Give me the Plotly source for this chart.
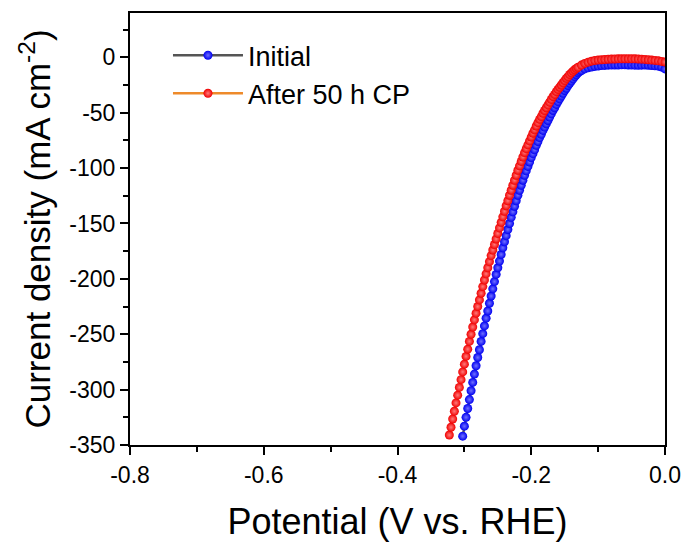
import plotly.graph_objects as go

# ── Data
V_INITIAL = [
    -0.3025, -0.3000, -0.2975, -0.2950, -0.2925, -0.2900, -0.2875, -0.2850, -0.2825, -0.2800,
    -0.2775, -0.2750, -0.2725, -0.2700, -0.2675, -0.2650, -0.2625, -0.2600, -0.2575, -0.2550,
    -0.2525, -0.2500, -0.2475, -0.2450, -0.2425, -0.2400, -0.2375, -0.2350, -0.2325, -0.2300,
    -0.2275, -0.2250, -0.2225, -0.2200, -0.2175, -0.2150, -0.2125, -0.2100, -0.2075, -0.2050,
    -0.2025, -0.2000, -0.1975, -0.1950, -0.1925, -0.1900, -0.1875, -0.1850, -0.1825, -0.1800,
    -0.1775, -0.1750, -0.1725, -0.1700, -0.1675, -0.1650, -0.1625, -0.1600, -0.1575, -0.1550,
    -0.1525, -0.1500, -0.1475, -0.1450, -0.1425, -0.1400, -0.1375, -0.1350, -0.1325, -0.1300,
    -0.1275, -0.125, -0.120, -0.115, -0.110, -0.105, -0.100, -0.095, -0.090, -0.085,
    -0.080, -0.075, -0.070, -0.065, -0.060, -0.055, -0.050, -0.045, -0.040, -0.035,
    -0.030, -0.025, -0.020, -0.015, -0.010, -0.005, 0.000,
]
J_INITIAL = [
    -342, -333, -325, -317, -309, -301, -293.5, -286, -278.5, -271,
    -264, -256.5, -249.5, -242.5, -235.5, -229, -222, -215.5, -209, -202.5,
    -196, -190, -184, -178, -172, -166.5, -161, -155.5, -150, -144.5,
    -139.5, -134.5, -129.5, -124.5, -120, -115.5, -111, -106.5, -102.5, -98.5,
    -94.5, -90.5, -87, -83.5, -79.5, -76, -72.5, -69.5, -66, -63,
    -60, -57, -54, -51, -48, -45.5, -42.5, -40, -37.5, -35,
    -32.5, -30, -28, -25.5, -23.5, -21.5, -19.5, -17.5, -15.8, -14,
    -12.9, -11.9, -10.5, -9.5, -8.8, -8.2, -7.8, -7.5, -7.3, -7.1,
    -7.0, -6.9, -6.9, -6.8, -6.8, -6.9, -7.0, -7.1, -7.2, -7.1,
    -7.0, -7.2, -7.4, -7.7, -8.0, -8.8, -10.5,
]

V_AFTER = [
    -0.3225, -0.3200, -0.3175, -0.3150, -0.3125, -0.3100, -0.3075, -0.3050, -0.3025, -0.3000,
    -0.2975, -0.2950, -0.2925, -0.2900, -0.2875, -0.2850, -0.2825, -0.2800, -0.2775, -0.2750,
    -0.2725, -0.2700, -0.2675, -0.2650, -0.2625, -0.2600, -0.2575, -0.2550, -0.2525, -0.2500,
    -0.2475, -0.2450, -0.2425, -0.2400, -0.2375, -0.2350, -0.2325, -0.2300, -0.2275, -0.2250,
    -0.2225, -0.2200, -0.2175, -0.2150, -0.2125, -0.2100, -0.2075, -0.2050, -0.2025, -0.2000,
    -0.1975, -0.1950, -0.1925, -0.1900, -0.1875, -0.1850, -0.1825, -0.1800, -0.1775, -0.1750,
    -0.1725, -0.1700, -0.1675, -0.1650, -0.1625, -0.1600, -0.1575, -0.1550, -0.1525, -0.1500,
    -0.1475, -0.1450, -0.1425, -0.1400, -0.1375, -0.1350, -0.1325, -0.1300,
    -0.125, -0.120, -0.115, -0.110, -0.105, -0.100, -0.095, -0.090, -0.085, -0.080,
    -0.075, -0.070, -0.065, -0.060, -0.055, -0.050, -0.045, -0.040, -0.035, -0.030,
    -0.025, -0.020, -0.015, -0.010, -0.005, 0.000,
]
J_AFTER = [
    -341, -334, -326.5, -319.5, -312, -305, -298, -291, -284, -277,
    -270, -263.5, -256.5, -250, -243.5, -237, -231, -225, -219, -213,
    -207, -201, -195.5, -190, -184.5, -179, -174, -169, -164, -159,
    -154, -149, -144, -139, -134, -129.5, -124.5, -120, -115.5, -111,
    -106.5, -102, -98, -94, -90, -86, -82.5, -79, -75.5, -72,
    -68.5, -65.5, -62, -59, -56, -53.5, -50.5, -48, -45.5, -43,
    -40.5, -38, -35.5, -33.5, -31, -29, -27, -25, -23, -21,
    -19, -17.5, -15.5, -14, -12.5, -11.2, -10, -9,
    -7, -5.5, -4.4, -3.5, -2.9, -2.5, -2.2, -2.0, -1.8, -1.6,
    -1.5, -1.4, -1.35, -1.3, -1.3, -1.3, -1.4, -1.5, -1.7, -1.9,
    -2.2, -2.5, -2.8, -3.2, -3.7, -4.2,
]

X_TICKS = [-0.8, -0.6, -0.4, -0.2, 0.0]
X_TICK_TEXT = ['-0.8', '-0.6', '-0.4', '-0.2', '0.0']
Y_TICKS = [0, -50, -100, -150, -200, -250, -300, -350]
Y_TICK_TEXT = ['0', '-50', '-100', '-150', '-200', '-250', '-300', '-350']

FONT = 'Arial, "Liberation Sans", sans-serif'
AXIS_COLOR = '#000000'

fig = go.Figure()

fig.add_trace(go.Scatter(
    x=V_INITIAL, y=J_INITIAL,
    mode='lines+markers', name='Initial',
    line=dict(color='#555555', width=2.5),
    marker=dict(size=9, color='#0000f0', line=dict(width=0),
                gradient=dict(type='radial', color='#7070ff')),
))
fig.add_trace(go.Scatter(
    x=V_AFTER, y=J_AFTER,
    mode='lines+markers', name='After 50 h CP',
    line=dict(color='#ee8a2a', width=2.5),
    marker=dict(size=9, color='#f00000', line=dict(width=0),
                gradient=dict(type='radial', color='#ff7a7a')),
))

axis_common = dict(
    showline=True, linecolor=AXIS_COLOR, linewidth=2, mirror=True,
    ticks='outside', ticklen=8, tickwidth=2, tickcolor=AXIS_COLOR,
    showgrid=False, zeroline=False, automargin=False,
    tickfont=dict(family=FONT, size=23, color='#000000'),
)

fig.update_xaxes(
    range=[-0.8, 0.0],
    tickvals=X_TICKS, ticktext=X_TICK_TEXT,
    minor=dict(tickmode='linear', tick0=-0.8, dtick=0.1, ticks='outside',
               ticklen=5, tickwidth=2, tickcolor=AXIS_COLOR),
    title=dict(text='Potential (V vs. RHE)', font=dict(family=FONT, size=36, color='#000000'),
               standoff=22),
    **axis_common,
)
fig.update_yaxes(
    range=[-350, 40],
    tickvals=Y_TICKS, ticktext=Y_TICK_TEXT,
    minor=dict(tickmode='linear', tick0=0, dtick=25, ticks='outside',
               ticklen=5, tickwidth=2, tickcolor=AXIS_COLOR),
    title=dict(text='Current density (mA cm<sup>-2</sup>)',
               font=dict(family=FONT, size=35, color='#000000'), standoff=8),
    **axis_common,
)

# page body adds an 8px offset, so margins are shifted to match
fig.update_layout(
    width=683, height=536,
    margin=dict(l=122, r=26, t=5, b=99),
    plot_bgcolor='white', paper_bgcolor='white',
    font=dict(family=FONT, color='#000000'),
    showlegend=True,
    legend=dict(
        x=0.071, y=0.958, xanchor='left', yanchor='top',
        bgcolor='rgba(0,0,0,0)', borderwidth=0,
        font=dict(family=FONT, size=27, color='#000000'),
        itemwidth=70, tracegroupgap=0,
    ),
)

fig.write_html("out.html")
